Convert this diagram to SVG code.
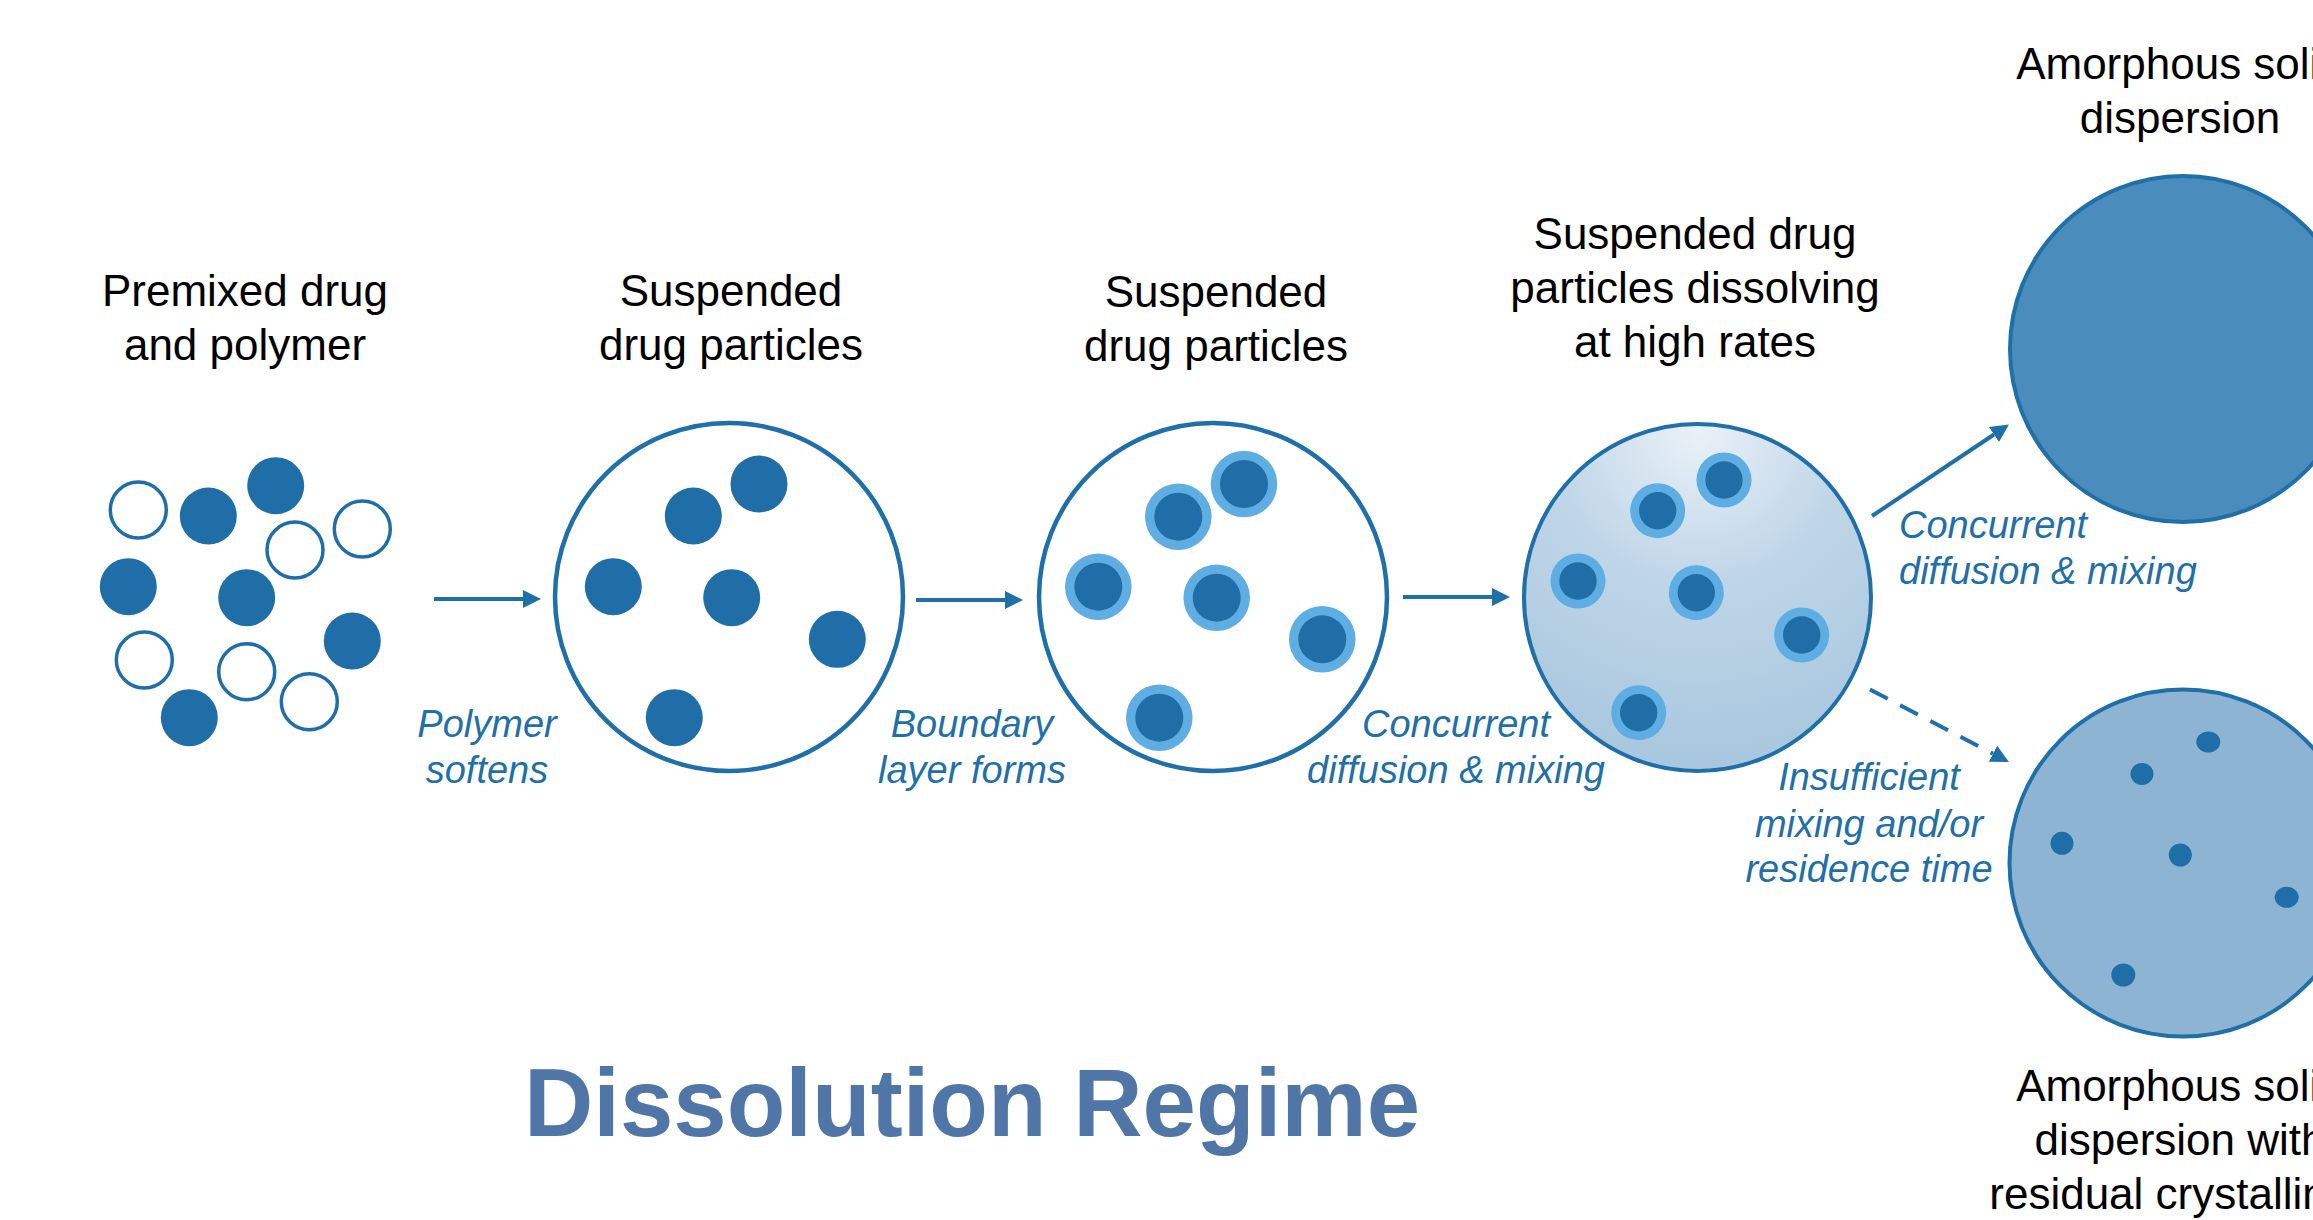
<svg xmlns="http://www.w3.org/2000/svg" width="2313" height="1220" viewBox="0 0 2313 1220">
<defs>
<style>
.title{font-family:"Liberation Sans",Arial,sans-serif;font-size:44px;fill:#000;text-anchor:middle}
.lbl{font-family:"Liberation Sans",Arial,sans-serif;font-size:38px;font-style:italic;fill:#1f6fa8;text-anchor:middle}
.lbll{font-family:"Liberation Sans",Arial,sans-serif;font-size:38px;font-style:italic;fill:#1f6fa8;text-anchor:start}
.big{fill:none;stroke:#1f6fa8;stroke-width:4.5}
.solid{fill:#1f6ea7}
.open{fill:#fff;stroke:#1f6ea7;stroke-width:3.5}
.ring{fill:#5eaee3}
.core{fill:#1f6ea7}
.conn{stroke:#1f6fa8;stroke-width:4;fill:none}
</style>
<marker id="ah" markerUnits="userSpaceOnUse" markerWidth="20" markerHeight="20" refX="0" refY="9" orient="auto" viewBox="0 0 20 20">
<path d="M0,0 L18,9 L0,18 z" fill="#1f6fa8"/>
</marker>
<radialGradient id="g4" cx="0.5" cy="0.02" r="0.95" fx="0.5" fy="0.02">
<stop offset="0" stop-color="#eaf1f8"/>
<stop offset="0.45" stop-color="#c0d6e8"/>
<stop offset="1" stop-color="#a9c7de"/>
</radialGradient>
</defs>
<rect width="2313" height="1220" fill="#fff"/>

<g id="stage1">
<text class="title" x="245" y="306">Premixed drug</text>
<text class="title" x="245" y="360">and polymer</text>
<circle class="open" cx="138.3" cy="510" r="28"/>
<circle class="open" cx="295" cy="550" r="28"/>
<circle class="open" cx="362.3" cy="529" r="28"/>
<circle class="open" cx="144.3" cy="660" r="28"/>
<circle class="open" cx="246.7" cy="671.7" r="28"/>
<circle class="open" cx="309.3" cy="701.7" r="28"/>
<circle class="solid" cx="208.3" cy="516" r="28.5"/>
<circle class="solid" cx="275.7" cy="485.7" r="28.5"/>
<circle class="solid" cx="128.3" cy="586.7" r="28.5"/>
<circle class="solid" cx="246.7" cy="597.7" r="28.5"/>
<circle class="solid" cx="352.3" cy="641" r="28.5"/>
<circle class="solid" cx="189.3" cy="717.7" r="28.5"/>
</g>

<g id="stage2">
<text class="title" x="731" y="306">Suspended</text>
<text class="title" x="731" y="360">drug particles</text>
<circle class="big" cx="729" cy="597" r="174" fill="#fff"/>
<circle class="solid" cx="759" cy="484" r="28.5"/>
<circle class="solid" cx="693.3" cy="516" r="28.5"/>
<circle class="solid" cx="613.3" cy="586.7" r="28.5"/>
<circle class="solid" cx="731.7" cy="597.7" r="28.5"/>
<circle class="solid" cx="837.3" cy="639.3" r="28.5"/>
<circle class="solid" cx="674.3" cy="717.7" r="28.5"/>
</g>

<g id="stage3">
<text class="title" x="1216" y="307">Suspended</text>
<text class="title" x="1216" y="361">drug particles</text>
<circle class="big" cx="1213" cy="597" r="174" fill="#fff"/>
<g>
<circle class="ring" cx="1244" cy="484" r="33.3"/><circle class="core" cx="1244" cy="484" r="24"/>
<circle class="ring" cx="1178.3" cy="516.7" r="33.3"/><circle class="core" cx="1178.3" cy="516.7" r="24"/>
<circle class="ring" cx="1098.3" cy="586.7" r="33.3"/><circle class="core" cx="1098.3" cy="586.7" r="24"/>
<circle class="ring" cx="1216.7" cy="597.7" r="33.3"/><circle class="core" cx="1216.7" cy="597.7" r="24"/>
<circle class="ring" cx="1322.3" cy="639.3" r="33.3"/><circle class="core" cx="1322.3" cy="639.3" r="24"/>
<circle class="ring" cx="1159.3" cy="717.7" r="33.3"/><circle class="core" cx="1159.3" cy="717.7" r="24"/>
</g>
</g>

<g id="stage4">
<text class="title" x="1695" y="249">Suspended drug</text>
<text class="title" x="1695" y="303">particles dissolving</text>
<text class="title" x="1695" y="357">at high rates</text>
<circle cx="1697.5" cy="597.5" r="173.5" fill="url(#g4)" stroke="#1f6fa8" stroke-width="4"/>
<circle class="ring" cx="1724" cy="480" r="27.5"/><circle class="core" cx="1724" cy="480" r="18.7"/>
<circle class="ring" cx="1657.7" cy="510.7" r="27.5"/><circle class="core" cx="1657.7" cy="510.7" r="18.7"/>
<circle class="ring" cx="1578" cy="581" r="27.5"/><circle class="core" cx="1578" cy="581" r="18.7"/>
<circle class="ring" cx="1696.3" cy="592.7" r="27.5"/><circle class="core" cx="1696.3" cy="592.7" r="18.7"/>
<circle class="ring" cx="1801.7" cy="635" r="27.5"/><circle class="core" cx="1801.7" cy="635" r="18.7"/>
<circle class="ring" cx="1638.7" cy="712.7" r="27.5"/><circle class="core" cx="1638.7" cy="712.7" r="18.7"/>
</g>

<g id="stage5a">
<text class="title" x="2180" y="79">Amorphous solid</text>
<text class="title" x="2180" y="133">dispersion</text>
<circle cx="2183" cy="349" r="173" fill="#4a8cbb" stroke="#1f6fa8" stroke-width="4"/>
</g>

<g id="stage5b">
<circle cx="2183" cy="863" r="173.5" fill="#8db5d3" stroke="#1f6fa8" stroke-width="4"/>
<ellipse class="solid" cx="2208.3" cy="742" rx="12" ry="10.5"/>
<ellipse class="solid" cx="2142" cy="774" rx="11.5" ry="11"/>
<ellipse class="solid" cx="2062" cy="843.3" rx="11.5" ry="11.5"/>
<ellipse class="solid" cx="2180.3" cy="855" rx="11.5" ry="11.5"/>
<ellipse class="solid" cx="2286.7" cy="897.3" rx="12" ry="10.5"/>
<ellipse class="solid" cx="2123.3" cy="975" rx="12" ry="11.5"/>
<text class="title" x="2180" y="1101">Amorphous solid</text>
<text class="title" x="2180" y="1155">dispersion with</text>
<text class="title" x="2180" y="1209">residual crystallinity</text>
</g>

<g id="connectors">
<line class="conn" x1="434" y1="599" x2="523" y2="599" marker-end="url(#ah)"/>
<line class="conn" x1="916" y1="600" x2="1005" y2="600" marker-end="url(#ah)"/>
<line class="conn" x1="1403" y1="597" x2="1492" y2="597" marker-end="url(#ah)"/>
<line class="conn" x1="1872" y1="516" x2="1994" y2="434.5" marker-end="url(#ah)"/>
<line class="conn" x1="1870" y1="689.6" x2="1993" y2="753.7" stroke-dasharray="20 14" marker-end="url(#ah)"/>
<text class="lbl" x="487" y="737">Polymer</text>
<text class="lbl" x="487" y="783">softens</text>
<text class="lbl" x="972" y="737">Boundary</text>
<text class="lbl" x="972" y="783">layer forms</text>
<text class="lbl" x="1456" y="737">Concurrent</text>
<text class="lbl" x="1456" y="783">diffusion &amp; mixing</text>
<text class="lbll" x="1899" y="538">Concurrent</text>
<text class="lbll" x="1899" y="584">diffusion &amp; mixing</text>
<text class="lbl" x="1869" y="790">Insufficient</text>
<text class="lbl" x="1869" y="837">mixing and/or</text>
<text class="lbl" x="1869" y="882">residence time</text>
</g>

<text x="972" y="1136" font-family="'Liberation Sans',Arial,sans-serif" font-size="96" font-weight="bold" fill="#4f76a7" text-anchor="middle">Dissolution Regime</text>
</svg>
